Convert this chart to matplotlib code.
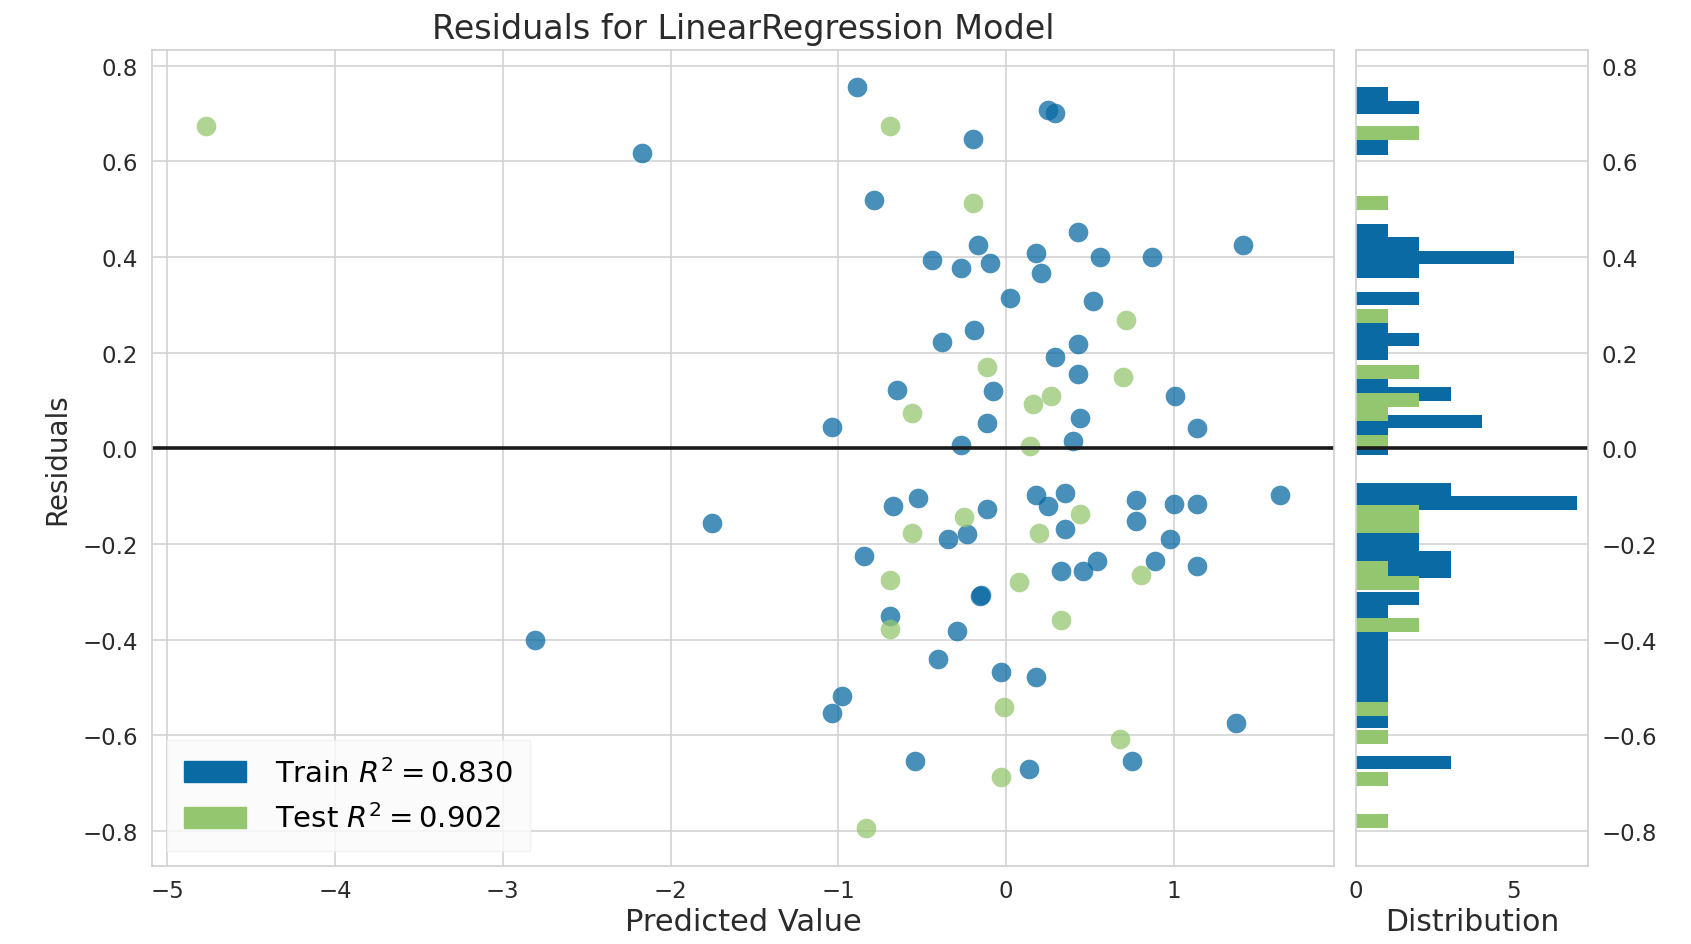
import matplotlib
matplotlib.use("Agg")
import matplotlib.pyplot as plt
from matplotlib.patches import Patch

plt.rcParams['font.family'] = ['DejaVu Sans']
plt.rcParams['mathtext.fontset'] = 'dejavusans'

# predicted values / residuals
train_pred = [-0.886, -0.196, 0.25, 0.29, -0.79, 0.43, -0.17, 1.41, 0.18, -0.443,
              0.558, 0.869, -0.27, -0.094, 0.21, 0.022, 0.52, -0.19, -0.38, 0.43,
              0.29, 0.43, -0.653, -0.077, 1.005, -1.037, -0.116, 0.443, 1.136, -0.27,
              0.40, -2.17,
              -1.75, -0.673, -0.522, -0.116, -0.344, -0.233, 0.178, 0.349, 0.252, 0.349,
              0.772, 0.772, 1.0, 1.136, 1.636, 0.98, -0.847, 0.54, 0.46, 0.33,
              0.888, 1.136, -0.153, -0.148, -0.69, -0.29, -0.406, -0.032, 0.178, -0.98,
              -1.037, 1.37, -0.542, 0.752, 0.136, -2.81]
train_res = [0.755, 0.646, 0.707, 0.700, 0.52, 0.452, 0.424, 0.424, 0.408, 0.394,
             0.4, 0.4, 0.377, 0.388, 0.366, 0.314, 0.308, 0.248, 0.223, 0.2175,
             0.19, 0.155, 0.122, 0.12, 0.109, 0.045, 0.053, 0.064, 0.043, 0.006,
             0.016, 0.617,
             -0.156, -0.121, -0.104, -0.128, -0.19, -0.179, -0.098, -0.093, -0.121, -0.168,
             -0.109, -0.152, -0.116, -0.116, -0.098, -0.19, -0.225, -0.235, -0.257, -0.257,
             -0.235, -0.247, -0.308, -0.306, -0.351, -0.382, -0.44, -0.467, -0.479, -0.517,
             -0.554, -0.574, -0.654, -0.654, -0.671, -0.4]

test_pred = [-4.77, -0.69, -0.196, 0.715, -0.116, 0.70, 0.27, 0.16, -0.56, 0.14,
             -0.252, -0.562, 0.443, 0.195, -0.69, 0.807, 0.077, -0.69, 0.33, -0.015,
             0.678, -0.032, -0.832]
test_res = [0.674, 0.674, 0.513, 0.268, 0.169, 0.148, 0.11, 0.092, 0.074, 0.005,
            -0.143, -0.178, -0.138, -0.178, -0.275, -0.264, -0.28, -0.377, -0.36, -0.541,
            -0.608, -0.687, -0.795]

train_r2 = 0.830
test_r2 = 0.902

train_color = '#0a6aa3'
test_color = '#94c66f'
grid_color = '#cfcfcf'
text_color = '#2b2b2b'

fig = plt.figure(figsize=(16.91, 9.45), dpi=100)
ax = fig.add_axes([0.090, 0.083, 0.699, 0.863])
hax = fig.add_axes([0.802, 0.083, 0.137, 0.863], sharey=ax)

for a in (ax, hax):
    a.set_facecolor('white')
    a.set_axisbelow(True)
    a.grid(True, color=grid_color, linewidth=1.1)
    for s in a.spines.values():
        s.set_color(grid_color)
        s.set_linewidth(1.2)
    a.tick_params(labelsize=16.5, colors=text_color, length=0, pad=10)

ax.scatter(train_pred, train_res, s=200, color=train_color, alpha=0.75, linewidths=0)
ax.scatter(test_pred, test_res, s=200, color=test_color, alpha=0.75, linewidths=0)
ax.axhline(0, color='#1a1a1a', linewidth=2.6)

ax.set_title('Residuals for LinearRegression Model', fontsize=24, color=text_color, pad=9)
ax.set_xlabel('Predicted Value', fontsize=22, color=text_color, labelpad=3)
ax.set_ylabel('Residuals', fontsize=20, color=text_color, labelpad=8)

handles = [Patch(color=train_color), Patch(color=test_color)]
labels = ['Train $R^2 = %.3f$' % train_r2, 'Test $R^2 = %.3f$' % test_r2]
leg = ax.legend(handles, labels, loc='lower left', fontsize=21, frameon=True,
                handlelength=2.1, handleheight=0.75, labelspacing=0.55,
                borderpad=0.6, handletextpad=1.0, fancybox=False)
leg.get_frame().set_facecolor('#fbfbfb')
leg.get_frame().set_edgecolor('#f0f0f0')

hax.hist(train_res, bins=50, orientation='horizontal', color=train_color)
hax.hist(test_res, bins=50, orientation='horizontal', color=test_color)
hax.axhline(0, color='#1a1a1a', linewidth=2.6)
hax.grid(False, axis='x')
hax.yaxis.tick_right()
hax.set_xticks([0, 5])
hax.set_xlabel('Distribution', fontsize=21.5, color=text_color, labelpad=3)

fig.savefig('out.png', dpi=100)
